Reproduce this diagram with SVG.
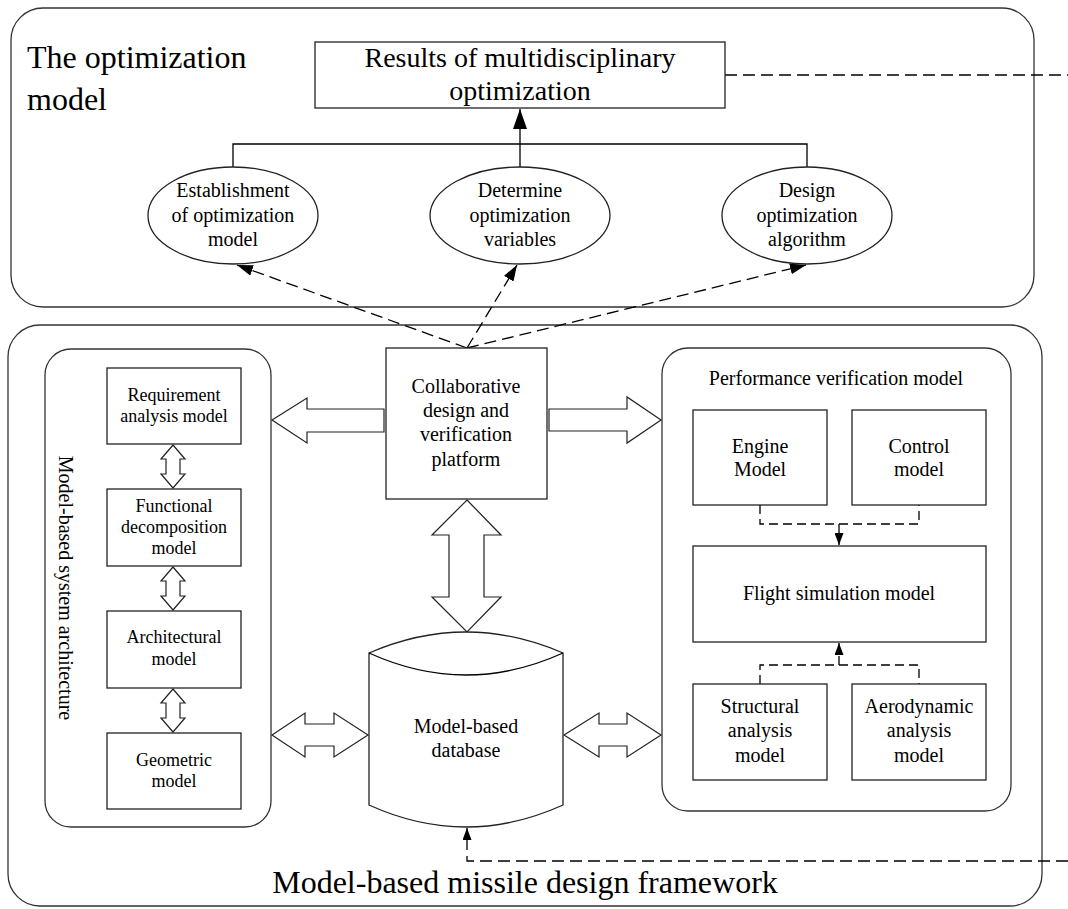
<svg xmlns="http://www.w3.org/2000/svg" width="1068" height="909" viewBox="0 0 1068 909">
<defs>
<style>
text{font-family:"Liberation Serif","Times New Roman",serif;fill:#000;}
.t32{font-size:32px;}
.t28{font-size:28px;}
.t20{font-size:20px;}
.t18{font-size:18px;}
.mid{text-anchor:middle;}
.cont{fill:#fff;stroke:#333;stroke-width:1.3;}
.box{fill:#fff;stroke:#222;stroke-width:1.3;}
.ln{fill:none;stroke:#000;stroke-width:1.3;}
.dash{fill:none;stroke:#000;stroke-width:1.3;stroke-dasharray:12 6;}
.dashs{fill:none;stroke:#000;stroke-width:1.3;stroke-dasharray:9 5;}
.fat{fill:#fff;stroke:#222;stroke-width:1.2;stroke-linejoin:miter;}
</style>
<marker id="ahL" viewBox="0 0 20 14" refX="20" refY="7" markerWidth="20" markerHeight="14" markerUnits="userSpaceOnUse" orient="auto">
<path d="M0,0 L20,7 L0,14 Z" fill="#000"/>
</marker>
<marker id="ahM" viewBox="0 0 16 11" refX="16" refY="5.5" markerWidth="16" markerHeight="11" markerUnits="userSpaceOnUse" orient="auto">
<path d="M0,0 L16,5.5 L0,11 Z" fill="#000"/>
</marker>
<marker id="ahS" viewBox="0 0 12 9" refX="12" refY="4.5" markerWidth="12" markerHeight="9" markerUnits="userSpaceOnUse" orient="auto">
<path d="M0,0 L12,4.5 L0,9 Z" fill="#000"/>
</marker>
</defs>
<rect width="1068" height="909" fill="#fff"/>

<g id="optimization-container">
<rect class="cont" x="11" y="8" width="1023" height="299" rx="32" ry="32"/>
<text class="t32" x="27" y="68">The optimization</text>
<text class="t32" x="27" y="110">model</text>
</g>

<g id="framework-container">
<rect class="cont" x="8" y="325" width="1034" height="581" rx="32" ry="32"/>
<text class="t32 mid" x="525" y="893">Model-based missile design framework</text>
</g>

<g id="system-architecture">
<rect class="cont" x="45" y="349" width="226" height="478" rx="26" ry="26"/>
<text class="t20 mid" transform="translate(59,588) rotate(90)">Model-based system architecture</text>
</g>

<g id="performance-verification">
<rect class="cont" x="662" y="348" width="349" height="463" rx="26" ry="26"/>
<text class="t20 mid" x="836" y="385">Performance verification model</text>
</g>

<g id="connectors">
<!-- results tree -->
<path class="ln" d="M233,167 V144 H807 V167"/>
<path class="ln" d="M520,167 V109" marker-end="url(#ahL)"/>
<!-- dashed from platform to ellipses -->
<path class="dash" d="M467,348 L237,265" marker-end="url(#ahM)"/>
<path class="dash" d="M467,348 L517,265" marker-end="url(#ahM)"/>
<path class="dash" d="M467,348 L806,265" marker-end="url(#ahM)"/>
<!-- off-page dashed lines -->
<path class="dash" d="M725,75 H1068"/>
<path class="dash" d="M1068,861 H467 V828" marker-end="url(#ahS)"/>
<!-- performance model dashed -->
<path class="dashs" d="M760,505 V524 H919 V505"/>
<path class="dashs" d="M839,524 V545" marker-end="url(#ahS)"/>
<path class="dashs" d="M760,684 V665 H919 V684"/>
<path class="dashs" d="M839,665 V643" marker-end="url(#ahS)"/>
<!-- block arrows -->
<polygon class="fat" points="272,420 307,398 307,409 384,409 384,432 307,432 307,443"/>
<polygon class="fat" points="549,409 627,409 627,397 661,420 627,443 627,431 549,431"/>
<polygon class="fat" points="467,500 501,535 484,535 484,597 501,597 467,632 432,597 449,597 449,535 432,535"/>
<polygon class="fat" points="272,735 305,713 305,724 334,724 334,713 368,735 334,757 334,746 305,746 305,757"/>
<polygon class="fat" points="564,735 599,713 599,724 627,724 627,713 661,735 627,757 627,746 599,746 599,757"/>
<polygon class="fat" points="173,445 185,459 180,459 180,474 185,474 173,488 161,474 166,474 166,459 161,459"/>
<polygon class="fat" points="173,567 185,581 180,581 180,596 185,596 173,610 161,596 166,596 166,581 161,581"/>
<polygon class="fat" points="173,689 185,703 180,703 180,718 185,718 173,732 161,718 166,718 166,703 161,703"/>
</g>

<g id="results">
<rect class="box" x="315" y="42" width="410" height="66"/>
<text class="t28 mid" x="520" y="67">Results of multidisciplinary</text>
<text class="t28 mid" x="520" y="100">optimization</text>
</g>

<g id="establishment">
<ellipse class="box" cx="233" cy="215.5" rx="85" ry="48.5"/>
<text class="t20 mid" x="233" y="197">Establishment</text>
<text class="t20 mid" x="233" y="222">of optimization</text>
<text class="t20 mid" x="233" y="246">model</text>
</g>

<g id="determine">
<ellipse class="box" cx="520" cy="215.5" rx="90" ry="48.5"/>
<text class="t20 mid" x="520" y="197">Determine</text>
<text class="t20 mid" x="520" y="222">optimization</text>
<text class="t20 mid" x="520" y="246">variables</text>
</g>

<g id="algorithm">
<ellipse class="box" cx="807" cy="215.5" rx="85" ry="48.5"/>
<text class="t20 mid" x="807" y="197">Design</text>
<text class="t20 mid" x="807" y="222">optimization</text>
<text class="t20 mid" x="807" y="246">algorithm</text>
</g>

<g id="platform">
<rect class="box" x="386" y="348" width="161" height="151"/>
<text class="t20 mid" x="466" y="393">Collaborative</text>
<text class="t20 mid" x="466" y="417">design and</text>
<text class="t20 mid" x="466" y="441">verification</text>
<text class="t20 mid" x="466" y="466">platform</text>
</g>

<g id="database">
<path class="box" d="M369,653 Q466,611 563,653 L563,805 Q466,849 369,805 Z"/>
<path class="ln" d="M369,653 Q466,697 563,653"/>
<text class="t20 mid" x="466" y="733">Model-based</text>
<text class="t20 mid" x="466" y="757">database</text>
</g>

<g id="requirement">
<rect class="box" x="107" y="368" width="134" height="76"/>
<text class="t18 mid" x="174" y="401">Requirement</text>
<text class="t18 mid" x="174" y="422">analysis model</text>
</g>

<g id="functional">
<rect class="box" x="107" y="489" width="134" height="77"/>
<text class="t18 mid" x="174" y="512">Functional</text>
<text class="t18 mid" x="174" y="533">decomposition</text>
<text class="t18 mid" x="174" y="554">model</text>
</g>

<g id="architectural">
<rect class="box" x="107" y="611" width="134" height="77"/>
<text class="t18 mid" x="174" y="643">Architectural</text>
<text class="t18 mid" x="174" y="665">model</text>
</g>

<g id="geometric">
<rect class="box" x="107" y="733" width="134" height="76"/>
<text class="t18 mid" x="174" y="766">Geometric</text>
<text class="t18 mid" x="174" y="787">model</text>
</g>

<g id="engine">
<rect class="box" x="693" y="410" width="134" height="95"/>
<text class="t20 mid" x="760" y="453">Engine</text>
<text class="t20 mid" x="760" y="476">Model</text>
</g>

<g id="control">
<rect class="box" x="852" y="410" width="134" height="95"/>
<text class="t20 mid" x="919" y="453">Control</text>
<text class="t20 mid" x="919" y="476">model</text>
</g>

<g id="flight">
<rect class="box" x="693" y="546" width="293" height="96"/>
<text class="t20 mid" x="839" y="600">Flight simulation model</text>
</g>

<g id="structural">
<rect class="box" x="693" y="684" width="134" height="96"/>
<text class="t20 mid" x="760" y="713">Structural</text>
<text class="t20 mid" x="760" y="737">analysis</text>
<text class="t20 mid" x="760" y="762">model</text>
</g>

<g id="aerodynamic">
<rect class="box" x="852" y="684" width="134" height="96"/>
<text class="t20 mid" x="919" y="713">Aerodynamic</text>
<text class="t20 mid" x="919" y="737">analysis</text>
<text class="t20 mid" x="919" y="762">model</text>
</g>
</svg>
